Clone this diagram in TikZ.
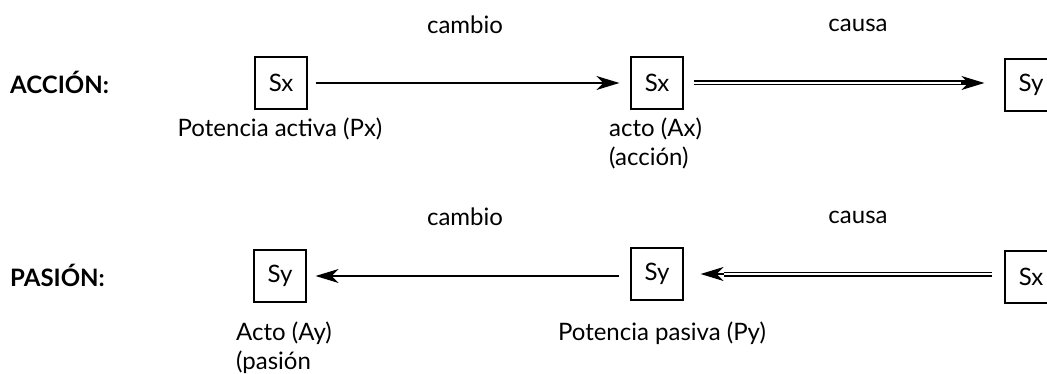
\documentclass[tikz,border=0pt]{standalone}
\usepackage{fontspec}
\setmainfont{Lato}
\usetikzlibrary{arrows.meta}
\begin{document}
\begin{tikzpicture}[x=1pt,y=-1pt,
  box/.style={draw, line width=1.2pt, minimum size=52pt, inner sep=0pt, font=\fontsize{24}{28}\selectfont},
  lbl/.style={inner sep=0pt, font=\fontsize{24}{29}\selectfont, align=left},
  head/.style={font=\bfseries\fontsize{24}{28}\selectfont, inner sep=0pt},
  arr/.style={line width=1.2pt, -{Stealth[length=23pt,width=14pt,inset=7pt]}},
  dbl/.style={double, double distance=2.6pt, line width=1.2pt},
  tip/.style={line width=1.2pt, -{Stealth[length=23pt,width=14pt,inset=7pt]}}
]
\useasboundingbox (0,0) rectangle (1047,374);
\clip (0,0) rectangle (1047,374);
% row 1
\node[head, anchor=west] (accion) at (10,82) {ACCIÓN:};
\node[box] (a1) at (281,83) {Sx};
\node[box] (a2) at (657,83) {Sx};
\node[box] (a3) at (1031,85) {Sy};
\node[lbl] (cam1) at (465,25) {cambio};
\node[lbl] (cau1) at (858,25) {causa};
\node[lbl] (px) at (280,129) {Potencia activa (Px)};
\node[lbl, anchor=west] (ax) at (609,143.5) {acto (Ax)\\(acción)};
\draw[arr, shorten <=8pt, shorten >=11pt] (a1.east) -- (a2.west);
\draw[dbl, shorten <=10pt] (a2.east) -- ([xshift=-34pt]a3.west |- a2.east);
\draw[tip] ([xshift=-43pt]a3.west |- a2.east) -- ([xshift=-20pt]a3.west |- a2.east);
% row 2
\node[head, anchor=west] (pasion) at (10,275) {PASIÓN:};
\node[box] (p1) at (280,276) {Sy};
\node[box] (p2) at (657,274) {Sy};
\node[box] (p3) at (1031,277) {Sx};
\node[lbl] (cam2) at (465,217) {cambio};
\node[lbl] (cau2) at (858,217) {causa};
\node[lbl, anchor=west] (ay) at (236,348) {Acto (Ay)\\(pasión};
\node[lbl] (py) at (662,333) {Potencia pasiva (Py)};
\draw[arr, shorten <=11pt, shorten >=9pt] (p2.west |- p1.east) -- (p1.east);
\draw[dbl, shorten <=12pt] (p3.west |- p2.west) -- ([xshift=40pt]p2.east);
\draw[tip] ([xshift=40pt]p2.east) -- ([xshift=17pt]p2.east);
\end{tikzpicture}
\end{document}
